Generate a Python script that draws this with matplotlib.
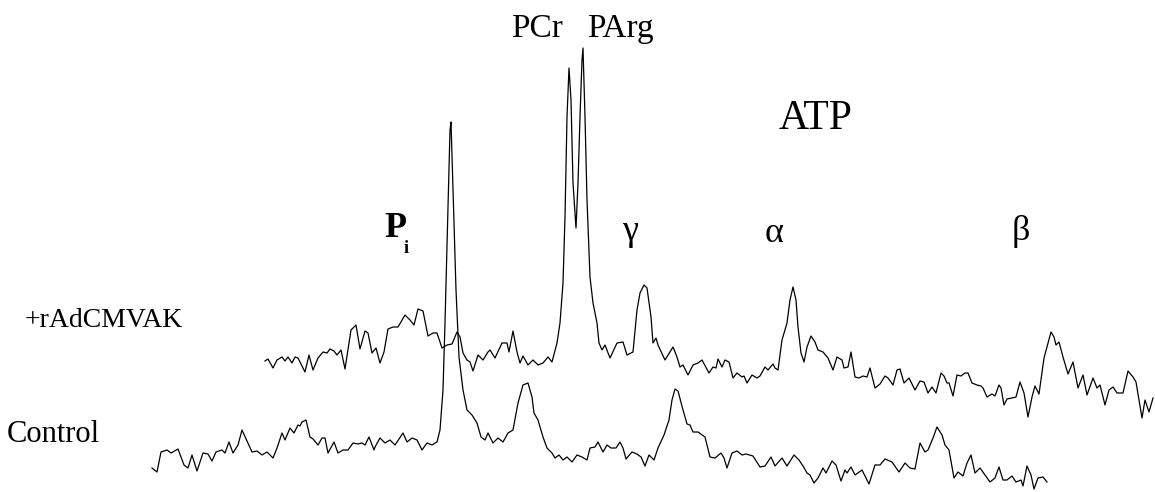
import matplotlib
matplotlib.use("Agg")
import matplotlib.pyplot as plt

# ---- data (position along the spectrum, vertical level; level grows downward) ----
treated_x = [265, 268, 273, 277, 282, 285, 288, 292, 295, 298, 305, 309, 313, 318, 323, 327, 330, 334, 337, 341,
             345, 351, 356, 360, 365, 368, 372, 376, 380, 384, 388, 393, 398, 405, 410, 414, 418, 423, 428, 433,
             437, 442, 447, 452, 457, 460, 463, 467, 470, 473, 478, 483, 488,
             490, 495, 502, 507, 509, 513, 517, 520, 523, 528, 533, 538, 543, 548, 552, 557, 560, 563, 565, 567,
             569, 571, 573, 576, 578, 580, 582, 583, 585, 587, 590, 593, 597, 599, 602, 605, 610, 617, 623, 627,
             633, 637, 640, 644, 647, 651, 653, 656, 658, 665, 673, 677, 680, 683, 688, 693, 698, 702,
             709, 713, 716, 718, 722, 725, 729, 733, 737, 742, 744, 747, 752, 757, 760, 765, 768, 773, 775, 778,
             782, 787, 790, 793, 796, 798, 801, 804, 807, 811, 815, 818, 823, 828, 833, 837, 842, 844, 848, 851,
             855, 859, 863, 867, 870, 875, 880, 885, 888, 893, 897, 900, 904, 909, 915,
             920, 924, 928, 932, 936, 941, 944, 947, 949, 953, 957, 961, 965, 968, 972, 977, 981, 983, 987, 992,
             995, 999, 1001, 1004, 1007, 1012, 1016, 1020, 1024, 1028, 1032, 1035, 1039, 1044, 1047, 1051, 1054,
             1056, 1059, 1063, 1068, 1073, 1078, 1083, 1087, 1093, 1097, 1100, 1105, 1109, 1113, 1117, 1123, 1128,
             1133, 1136, 1142, 1145, 1149, 1153]
treated_y = [361, 359, 368, 360, 357, 361, 357, 363, 357, 358, 372, 355, 370, 358, 352, 353, 349, 351, 355, 350,
             369, 330, 325, 349, 331, 333, 353, 348, 363, 352, 329, 327, 327, 315, 320, 325, 309, 311, 336, 333,
             333, 348, 345, 344, 332, 337, 353, 360, 362, 371, 355, 360, 352,
             350, 358, 343, 343, 352, 331, 352, 363, 356, 365, 360, 365, 363, 357, 362, 343, 323, 283, 217, 117,
             68, 100, 183, 228, 183, 117, 60, 48, 117, 200, 277, 303, 323, 343, 350, 345, 358, 343, 342, 355,
             352, 310, 293, 285, 288, 317, 343, 338, 345, 360, 347, 357, 367, 365, 375, 365, 363, 360,
             373, 367, 368, 359, 367, 360, 362, 378, 373, 377, 376, 383, 375, 378, 376, 367, 370, 364, 368, 370,
             340, 323, 300, 287, 300, 327, 353, 362, 347, 336, 342, 350, 352, 358, 370, 357, 360, 368, 367, 352,
             377, 378, 376, 377, 368, 388, 384, 376, 378, 385, 370, 369, 383, 378, 390,
             381, 382, 393, 387, 393, 373, 376, 383, 383, 396, 375, 376, 373, 373, 383, 385, 386, 388, 397, 394,
             396, 385, 388, 405, 399, 398, 397, 382, 393, 417, 397, 386, 394, 358, 347, 332, 337,
             345, 342, 357, 374, 362, 388, 375, 395, 378, 388, 385, 405, 390, 387, 393, 393, 371,
             377, 382, 418, 400, 412, 398]

control_x = [152, 157, 161, 167, 171, 178, 184, 188, 192, 197, 203, 208, 212, 216, 222, 225, 229, 233, 238, 242,
             247, 252, 257, 262, 267, 273, 277, 282, 285, 290, 294, 298, 300, 302, 306, 310, 313, 318, 322, 325,
             328, 334, 338, 343, 348, 353, 358, 362, 365, 369, 374,
             375, 380, 385, 390, 395, 403, 407, 412, 417, 422, 427, 432, 437, 440, 443, 445, 448, 450, 451, 453,
             456, 459, 463, 467, 472, 477, 481, 485, 488, 493, 498, 503, 508, 513, 518, 523, 528, 532, 534, 538,
             543, 547, 552, 555, 559, 563, 567, 572, 577, 582, 587, 590, 595,
             598, 603, 607, 611, 616, 620, 623, 626, 632, 637, 641, 645, 649, 654, 658, 664, 669, 672, 675, 678,
             683, 687, 690, 693, 698, 705, 710, 715, 721, 724, 727, 732, 737, 742, 746, 753, 760, 765, 771, 775,
             782, 787, 794, 799, 803, 807,
             810, 814, 818, 823, 826, 832, 836, 841, 845, 847, 851, 855, 862, 869, 875, 880, 885, 892, 899, 905,
             910, 915, 920, 925, 928, 933, 937, 942, 945, 949, 954, 958, 963, 967, 971, 975, 980, 985, 990, 995,
             999, 1003, 1007, 1012, 1016, 1021, 1023, 1027, 1031, 1034, 1038, 1043, 1047]
control_y = [468, 472, 452, 450, 453, 449, 465, 468, 455, 471, 453, 454, 461, 452, 450, 453, 442, 453, 445, 430,
             441, 452, 451, 455, 452, 458, 448, 433, 440, 428, 433, 425, 426, 422, 420, 437, 439, 445, 438, 438,
             453, 442, 453, 450, 450, 443, 444, 443, 445, 437, 450,
             447, 438, 443, 440, 445, 433, 442, 438, 440, 450, 443, 445, 442, 430, 390, 323, 207, 130, 122, 190,
             290, 357, 390, 410, 415, 423, 437, 440, 433, 443, 438, 442, 433, 430, 403, 385, 383, 397, 413, 420,
             437, 448, 453, 458, 455, 460, 457, 462, 455, 457, 460, 448, 447,
             442, 452, 445, 448, 448, 442, 448, 459, 452, 454, 457, 466, 455, 460, 448, 435, 420, 400, 389, 391,
             410, 424, 425, 432, 432, 437, 457, 458, 453, 458, 468, 453, 451, 455, 454, 456, 467, 466, 457, 466,
             458, 466, 455, 460, 466, 473,
             475, 483, 478, 468, 473, 461, 465, 481, 470, 473, 467, 475, 470, 484, 465, 465, 459, 462, 472, 463,
             468, 469, 443, 452, 450, 438, 427, 435, 445, 450, 478, 472, 476, 463, 455, 473, 468, 475, 482, 478,
             467, 480, 480, 476, 482, 480, 486, 466, 475, 489, 478, 477, 482]

trace_labels = ["+rAdCMVAK", "Control"]
peak_labels = ["PCr", "PArg", "ATP", "\u03b3", "\u03b1", "\u03b2"]

# ---- figure ----
W, H = 1155, 492
fig = plt.figure(figsize=(W / 100, H / 100), dpi=100)
ax = fig.add_axes([0, 0, 1, 1])
ax.set_xlim(0, W)
ax.set_ylim(H, 0)
ax.axis("off")

ax.plot(treated_x, treated_y, color="black", lw=0.9, solid_joinstyle="round")
ax.plot(control_x, control_y, color="black", lw=0.9, solid_joinstyle="round")

serif = ["Liberation Serif", "DejaVu Serif"]

# trace labels
ax.text(25, 327, trace_labels[0], fontsize=20, family=serif, ha="left", va="baseline")
ax.text(7, 442, trace_labels[1], fontsize=22, family=serif, ha="left", va="baseline")

# peak labels
ax.text(511, 37, peak_labels[0], fontsize=24, family=serif, ha="left", va="baseline")
ax.text(587, 37, peak_labels[1], fontsize=24, family=serif, ha="left", va="baseline")
ax.text(779, 129, peak_labels[2], fontsize=30, family=serif, ha="left", va="baseline")
ax.text(384, 237, "P", fontsize=26, family=serif, fontweight="bold", ha="left", va="baseline")
ax.text(404, 253, "i", fontsize=13, family=serif, fontweight="bold", ha="left", va="baseline")
ax.text(630, 232, peak_labels[3], fontsize=26, family=serif, ha="center", va="center")
ax.text(774, 233, peak_labels[4], fontsize=26, family=serif, ha="center", va="center")
ax.text(1021, 231, peak_labels[5], fontsize=26, family=serif, ha="center", va="center")

fig.savefig("out.png", dpi=100, facecolor="white")
